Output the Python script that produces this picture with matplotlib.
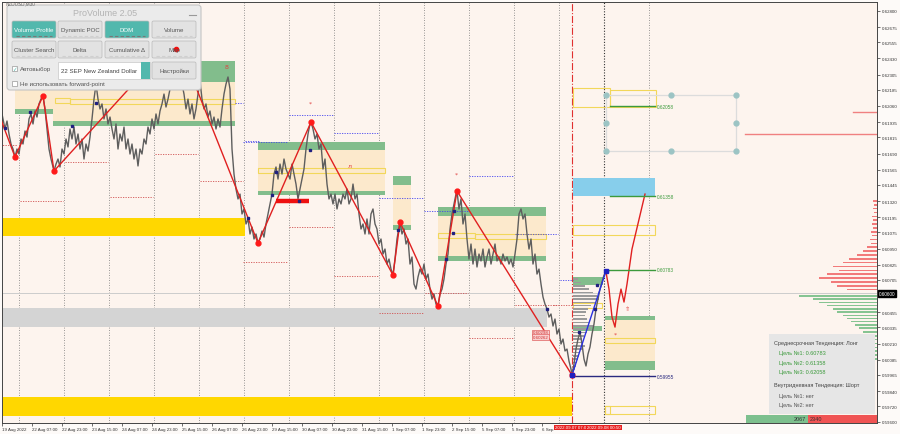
import matplotlib
matplotlib.use("Agg")
import matplotlib.pyplot as plt
from matplotlib.patches import Rectangle, FancyBboxPatch
from matplotlib.transforms import blended_transform_factory

plt.rcParams["font.family"] = ["Liberation Sans", "DejaVu Sans"]

# price path, bar index vs price in points (1e-5)
price_x = [0, 2, 4, 5, 7, 9, 11, 13, 15, 17, 19, 21, 23, 25, 27, 29, 31, 33, 35, 37, 39, 41, 43,
           45, 47, 49, 51, 53, 54, 56, 58, 60, 62, 64, 66, 68, 70, 72, 74, 76, 78, 80, 82, 84, 86, 88, 90, 92, 94, 96,
           98, 100, 102, 104, 106, 108, 110, 112, 114, 116, 118, 120, 122, 124, 126, 128, 130, 132, 134, 136, 138,
           140, 142, 144, 146, 148, 150, 152, 154, 156, 158, 160, 162, 164, 166, 168, 170, 172, 174, 176, 178, 180,
           182, 184, 186, 188, 190, 192, 194, 196, 198,
           200, 202, 204, 206, 208, 210, 212, 214, 216, 218, 220, 222, 224, 226, 228, 230, 232,
           234, 236, 238, 240, 242, 244, 246, 248, 250, 252, 254, 256, 258,
           260, 262, 264, 266, 268, 270, 272, 274, 276, 278, 280, 282, 284, 286, 288, 290, 292, 294, 296, 298, 300,
           302, 304, 306, 308, 310, 311,
           313, 315, 317, 319, 321, 323, 325, 327, 329, 331, 333, 335, 337, 339, 341, 343, 345, 347, 349, 351, 353,
           355, 357, 359, 361, 363, 365, 367, 369, 371, 373, 375, 377, 379, 381, 383, 385, 387, 389, 391, 393,
           395, 397, 399, 400,
           402, 404, 406, 408, 410, 412, 414, 416, 418, 420, 422, 424, 426, 428, 430, 432, 434, 436, 438,
           440, 442, 444, 446, 448, 450, 452, 454, 456, 457,
           459, 461, 463, 465, 467, 469, 471, 473, 475, 477, 479, 481, 483, 485, 487, 489, 491, 493, 495, 497, 499,
           501, 503, 505, 507, 509, 511, 513, 515, 517, 519, 521, 523, 525, 527, 529, 531, 533, 535, 537, 539, 541,
           543, 545, 547, 549, 551, 553, 555, 557, 559, 561, 563, 565, 567, 569, 571, 572,
           574, 576, 578, 580, 582, 584, 586, 588, 590, 592, 594, 596, 598, 600, 602, 604, 606]
price_pts = [62060, 61998, 61920, 61881, 61943, 61842, 61764, 61725, 61663, 61725, 61686, 61803, 61764, 61865,
             61818, 61959, 61998, 61920, 62021, 61974, 62076, 62114, 62138,
             62037, 61881, 61725, 61647, 61585, 61554, 61608, 61647, 61585, 61725, 61686, 61803, 61741, 61881, 61803,
             61896, 61764, 61842, 61725, 61803, 61647, 61764, 61709, 61818, 61959, 62114, 62231,
             62114, 62037, 62076, 61959, 62037, 61920, 61974, 61881, 61803, 61920, 61725, 61842, 61787, 61896, 61725,
             61803, 61686, 61764, 61647, 61725, 61593,
             61725, 61686, 61803, 61764, 61896, 61842, 61959, 61881, 61998, 61920, 62021, 62076, 62153, 62052, 62114,
             62192, 62309, 62426, 62597, 62518, 62440, 62231, 62153, 62037, 62114, 61998, 62076, 61959, 62037, 62153,
             62255, 62114, 62037, 62076, 61974, 62021, 61920, 61974, 61881, 61959, 61896, 62037, 62153, 62231, 62286,
             62192, 61725,
             61530, 61413, 61336, 61374, 61219, 61258, 61141, 61180, 61063, 61117, 61024, 61063, 60993,
             61024, 61086, 61039, 61141, 61219, 61297, 61374, 61530, 61585, 61491, 61608, 61530, 61647, 61569, 61530,
             61491, 61608, 61530, 61452, 61336, 61413, 61491, 61569, 61725, 61842, 61920, 61935,
             61881, 61803, 61842, 61725, 61764, 61569, 61647, 61452, 61336, 61374, 61297, 61374, 61258, 61336, 61297,
             61374, 61336, 61413, 61297, 61336, 61452, 61336, 61374, 61219, 61102, 61141, 61063, 61180, 61063, 61219,
             61258, 61141, 61102, 60985, 61024, 60907, 60946, 60829, 60868, 60790, 60743,
             60868, 61024, 61117, 61156,
             61063, 61102, 60985, 61024, 60829, 60884, 60673, 60634, 60728, 60790, 60751, 60829, 60712, 60751, 60634,
             60556, 60595, 60517, 60502,
             60595, 60634, 60712, 60829, 60907, 61102, 61219, 61297, 61374, 61398,
             61258, 61336, 61141, 61219, 61024, 60868, 60985, 60829, 60946, 60806, 60907, 60853, 60946, 60806, 60884,
             60946, 60829, 60907, 60985, 60853, 60884,
             60829, 60907, 60853, 60884, 60829, 60868, 60806, 60907, 61024, 61219, 61258, 61180, 61219, 61063, 60946,
             61024, 60829, 60907, 60751, 60790, 60673,
             60572, 60517, 60479, 60416, 60440, 60346, 60401, 60284, 60323, 60206, 60245, 60152, 60167, 60073, 60011,
             59964,
             60050, 60167, 60245, 60299, 60206, 60089, 60035, 60128, 60183, 60284, 60362, 60479, 60556, 60634, 60689,
             60743, 60767]

zigzag_x = [0, 15, 43, 54, 176, 258, 311, 393, 400, 438, 457, 572]
zigzag_pts = [61974, 61663, 62138, 61554, 62597, 60993, 61935, 60743, 61156, 60502, 61398, 59964]
impulse_x = [572, 606]
impulse_pts = [59964, 60775]
forecast_x = [606, 609, 612, 615, 618, 621, 624, 627, 632, 645]
forecast_pts = [60767, 60634, 60416, 60338, 60517, 60634, 60533, 60673, 60946, 61374]
pivot_x = [5, 30, 72, 96, 248, 272, 276, 299, 310, 398, 446, 453, 454, 547, 579, 595, 597, 607]
pivot_pts = [61889, 62013, 61904, 62083, 61187, 61367, 61546, 61320, 61717, 61094, 60868, 61071, 61242,
             60479, 60299, 60479, 60666, 60775]

# zones: x0, x1, low, high
zone_beige = [(15, 53, 62013, 62409), (53, 235, 61920, 62409), (258, 385, 61367, 61779),
              (393, 411, 61094, 61515), (438, 546, 60853, 61273), (605, 655, 60003, 60424)]
zone_green = [(15, 53, 61998, 62037), (53, 235, 61904, 61943), (53, 235, 62247, 62409),
              (258, 385, 61717, 61779), (258, 385, 61367, 61398), (393, 411, 61445, 61515),
              (393, 411, 61094, 61133), (438, 546, 61203, 61273), (438, 546, 60853, 60891),
              (605, 655, 60393, 60424), (605, 655, 60003, 60073), (573, 603, 60666, 60728),
              (573, 602, 60307, 60346)]
zone_yellow_outline = [(55, 70, 62083, 62122), (70, 235, 62076, 62114), (258, 385, 61538, 61577),
                       (438, 475, 61032, 61071), (475, 546, 61024, 61063), (573, 602, 60486, 60525),
                       (605, 655, 60214, 60253), (573, 610, 62052, 62200), (610, 656, 62052, 62185),
                       (573, 655, 61055, 61133), (605, 655, 59661, 59724), (605, 610, 59661, 59724)]
band_yellow = [(0, 245, 61047, 61187), (0, 572, 59645, 59793)]
band_gray = [(0, 547, 60338, 60486)]
band_blue = [(573, 655, 61359, 61499)]

# session levels: x0, x1, price
level_blue = [(235, 243, 62083), (245, 260, 61787), (243, 288, 61779), (289, 333, 61990), (334, 378, 61850),
              (379, 423, 61343), (424, 468, 61242), (469, 513, 61515), (515, 558, 61063), (560, 573, 60705)]
level_red = [(0, 17, 61756), (20, 63, 61320), (65, 108, 61624), (110, 153, 61351), (155, 198, 61686),
             (200, 243, 61476), (243, 288, 60845), (289, 333, 61117), (334, 378, 60736), (379, 423, 60447),
             (425, 468, 60603), (469, 513, 60253), (515, 558, 60510), (553, 573, 60510)]
target_lines = [(610, 655, 62058, "0.62058", "#3c9a3c"), (610, 655, 61358, "0.61358", "#3c9a3c"),
                (607, 655, 60783, "0.60783", "#3c9a3c"), (572, 655, 59955, "0.59955", "#2a2a80")]

# right-side volume profile
prof_pts = [61320, 61290, 61260, 61230, 61200, 61170, 61140, 61110, 61080, 61050, 61020, 60990, 60960, 60930,
            60900, 60870, 60840, 60810, 60780, 60750, 60720, 60690, 60660, 60630,
            60580, 60555, 60530, 60505, 60480, 60455, 60430, 60405, 60380, 60355, 60330, 60300, 60270, 60240,
            60210, 60180, 60150, 60120, 60090]
prof_len = [4, 3, 4, 3, 5, 4, 5, 4, 6, 5, 7, 6, 10, 14, 20, 28, 34, 44, 38, 50, 58, 46, 40, 30,
            78, 64, 58, 50, 44, 40, 34, 30, 26, 22, 18, 14, 12, 10, 8, 6, 5, 4, 3]
# small profile next to the current swing
vp_pts = [60712, 60685, 60660, 60634, 60608, 60582, 60556, 60530, 60505, 60479, 60453, 60427, 60401, 60375,
          60349, 60323, 60297, 60271, 60245, 60219, 60193, 60167, 60141, 60115, 60089, 60063, 60037, 60011]
vp_len = [5, 8, 12, 16, 20, 24, 26, 22, 18, 15, 13, 12, 14, 16, 20, 18, 14, 11, 9, 10, 12, 9, 7, 6, 5, 4, 3, 2]

tick_x = [2, 32, 62, 92, 122, 152, 182, 212, 242, 272, 302, 332, 362, 392, 422, 452, 482, 512, 542]
tick_lbl = ["19 Aug 2022", "22 Aug 07:00", "22 Aug 23:00", "23 Aug 15:00", "24 Aug 07:00", "24 Aug 23:00",
            "25 Aug 15:00", "26 Aug 07:00", "26 Aug 23:00", "29 Aug 15:00", "30 Aug 07:00", "30 Aug 23:00",
            "31 Aug 15:00", "1 Sep 07:00", "1 Sep 23:00", "2 Sep 15:00", "5 Sep 07:00", "5 Sep 23:00", "6 Sep"]
grid_x = [19, 64, 109, 154, 199, 244, 289, 334, 379, 424, 469, 514, 559, 649]
price_ticks = [62800, 62675, 62555, 62430, 62305, 62185, 62060, 61935, 61815, 61690, 61565, 61445, 61320,
               61195, 61075, 60950, 60825, 60705, 60455, 60335, 60210, 60085, 59965, 59840, 59720, 59600]
last_price = 60600

info_lines = [("Среднесрочная Тенденция: Лонг", "#444444", 0),
              ("Цель №1: 0.60783", "#3c9a3c", 5), ("Цель №2: 0.61358", "#3c9a3c", 5),
              ("Цель №3: 0.62058", "#3c9a3c", 5),
              ("Внутридневная Тенденция: Шорт", "#444444", 0),
              ("Цель №1: нет", "#555555", 5), ("Цель №2: нет", "#555555", 5)]
buy_vol, sell_vol = 2067, 2340

P = lambda v: v / 1e5
BG = "#fdf4ee"
GREEN = "#82bd8c"
BEIGE = "#fce9cc"

fig = plt.figure(figsize=(9, 4.35), dpi=100)
fig.patch.set_facecolor("#fdfaf8")
ax = fig.add_axes([2 / 900, 11 / 435, 875 / 900, 421 / 435])
ax.set_facecolor(BG)
ax.set_xlim(2, 877)
ax.set_ylim(0.59591, 0.62870)

def rect(x0, x1, lo, hi, **kw):
    ax.add_patch(Rectangle((x0, P(lo)), x1 - x0, P(hi) - P(lo), **kw))

for x0, x1, lo, hi in band_yellow:
    rect(x0, x1, lo, hi, facecolor="#ffd700", edgecolor="none", zorder=1)
for x0, x1, lo, hi in band_gray:
    rect(x0, x1, lo, hi, facecolor="#d4d4d4", edgecolor="none", zorder=1)
for x0, x1, lo, hi in band_blue:
    rect(x0, x1, lo, hi, facecolor="#87ceeb", edgecolor="none", zorder=1)
for x0, x1, lo, hi in zone_beige:
    rect(x0, x1, lo, hi, facecolor=BEIGE, edgecolor="none", zorder=1)
for x0, x1, lo, hi in zone_green:
    rect(x0, x1, lo, hi, facecolor=GREEN, edgecolor="none", zorder=1.2)
for x0, x1, lo, hi in zone_yellow_outline:
    rect(x0, x1, lo, hi, facecolor="none", edgecolor="#f2d75a", lw=0.8, zorder=1.3)

for gx in grid_x:
    ax.axvline(gx, color="#777777", ls=(0, (1, 2)), lw=0.6, zorder=0.5)
ax.axvline(572, color="#e03030", ls="-.", lw=0.8, zorder=0.6)
ax.axvline(604, color="#333333", ls=(0, (1, 1.5)), lw=0.8, zorder=0.6)
ax.axhline(P(last_price), color="#cccccc", lw=0.7, zorder=0.6)

for x0, x1, v in level_blue:
    ax.plot([x0, x1], [P(v)] * 2, color="#4444ee", ls=(0, (1.5, 1.5)), lw=0.6, zorder=1.5)
for x0, x1, v in level_red:
    ax.plot([x0, x1], [P(v)] * 2, color="#d05050", ls=(0, (1.5, 1.5)), lw=0.6, zorder=1.5)

# volume profiles
ax.barh([P(v) for v in vp_pts], vp_len, left=573, height=0.00013, color="#9a9a9a", zorder=1.4)
prof_col = ["#f27a7a" if v > last_price else "#86c492" for v in prof_pts]
ax.barh([P(v) for v in prof_pts], [-l for l in prof_len], left=877, height=0.00012, color=prof_col, zorder=1.4)
ax.plot([745, 877], [P(61842)] * 2, color="#f08080", lw=1.0, zorder=1.4)
ax.plot([853, 877], [P(62013)] * 2, color="#f08080", lw=1.0, zorder=1.4)

ax.plot(price_x, [P(v) for v in price_pts], color="#5e5e5e", lw=1.0, zorder=2)
ax.plot(zigzag_x, [P(v) for v in zigzag_pts], color="#e02020", lw=1.0, zorder=3)
ax.plot(zigzag_x[1:], [P(v) for v in zigzag_pts[1:]], "o", color="#ff1a1a", ms=3.5, zorder=3.2)
ax.plot(impulse_x, [P(v) for v in impulse_pts], color="#2830e0", lw=1.0, zorder=3)
ax.plot(impulse_x, [P(v) for v in impulse_pts], "s", color="#2020c0", ms=3.5, zorder=3.2)
ax.plot(forecast_x, [P(v) for v in forecast_pts], color="#e02020", lw=1.0, zorder=3)
ax.plot(pivot_x, [P(v) for v in pivot_pts], "s", color="#202080", ms=1.6, zorder=3.1)

# thick red segment and markers
ax.plot([276, 309], [P(61320)] * 2, color="#ee1010", lw=3.2, solid_capstyle="butt", zorder=3)
for x, v, s in [(227, 62367, "8"), (310, 62083, "*"), (350, 61593, "л"), (456, 61530, "*"),
                (627, 60486, "⇑"), (615, 60284, "*")]:
    ax.text(x, P(v), s, color="#e04040", fontsize=4.5, ha="center", va="center", zorder=4,
            family="DejaVu Sans")

for x0, x1, v, lbl, c in target_lines:
    ax.plot([x0, x1], [P(v)] * 2, color=c, lw=1.0, zorder=3)
    ax.text(x1 + 2, P(v), lbl, color=c, fontsize=3.4, va="center", zorder=4)

# swing target grid
gx, gy = [606, 671, 736], [62146, 61928, 61709]
ax.plot([606, 736, 736, 606, 606], [P(62146), P(62146), P(61709), P(61709), P(62146)],
        color="#dcdcdc", lw=0.9, zorder=2)
for xx in gx:
    for yy in gy:
        if xx == 671 and yy == 61928:
            continue
        ax.plot(xx, P(yy), "o", color="#9cc4c4", ms=3.5, zorder=2.5)

# small red price tags
for v, lbl in [(60298, "0.60298"), (60262, "0.60262")]:
    ax.text(533, P(v), lbl, fontsize=3.2, color="#d03030", va="center", zorder=4,
            bbox=dict(boxstyle="square,pad=0.15", fc="#f9d0d0", ec="#e06060", lw=0.5))

ax.yaxis.tick_right()
ax.set_yticks([P(v) for v in price_ticks])
ax.set_yticklabels(["%.5f" % P(v) for v in price_ticks])
ax.set_xticks(tick_x)
ax.set_xticklabels(tick_lbl)
ax.tick_params(axis="both", labelsize=3.2, colors="#333333", length=2, width=0.5, pad=1.2)
for t in ax.get_xticklabels():
    t.set_ha("left")
for s in ax.spines.values():
    s.set_color("#444444")
    s.set_linewidth(0.7)

tr = blended_transform_factory(ax.transAxes, ax.transData)
ax.text(1.002, P(last_price), "%.5f" % P(last_price), transform=tr, fontsize=3.3, color="white",
        va="center", ha="left", zorder=5, bbox=dict(boxstyle="square,pad=0.15", fc="black", ec="black"))

# overlay in pixel space for the widgets
ov = fig.add_axes([0, 0, 1, 1], zorder=10)
ov.set_xlim(0, 900)
ov.set_ylim(435, 0)
ov.axis("off")
ov.patch.set_alpha(0)

for xc, lbl in [(572, "2022.09.07 07:00"), (604, "2022.09.08 00:50")]:
    ov.text(xc, 428.5, lbl, fontsize=3.2, color="white", ha="center", va="center",
            bbox=dict(boxstyle="square,pad=0.2", fc="#e82020", ec="none"))

ov.text(6, 4, "NZDUSD,M30", fontsize=3.3, color="#666666", va="center")
ov.add_patch(FancyBboxPatch((7, 6), 194, 85, boxstyle="round,pad=0,rounding_size=3",
                            fc="#ebebeb", ec="#c4c4c4", lw=0.8))
ov.text(105, 13.5, "ProVolume 2.05", fontsize=6.5, color="#b4b4b4", ha="center", va="center")
ov.plot([189, 196], [16, 16], color="#999999", lw=0.8)

buttons = [("Volume Profile", 12, 22, True), ("Dynamic POC", 58, 22, False), ("DOM", 105, 22, True),
           ("Volume", 152, 22, False), ("Cluster Search", 12, 42, False), ("Delta", 58, 42, False),
           ("Cumulative Δ", 105, 42, False), ("Map", 152, 42, False)]
for lbl, bx, by, on in buttons:
    ov.add_patch(FancyBboxPatch((bx, by), 44, 17, boxstyle="round,pad=0,rounding_size=1.5",
                                fc="#52b8ad" if on else "#e2e2e2", ec="#b8b8b8", lw=0.5))
    ov.text(bx + 22, by + 8.5, lbl, fontsize=4.4, color="white" if on else "#555555",
            ha="center", va="center")
    ov.plot([bx + 4, bx + 40], [by + 14.5, by + 14.5], color="#777777" if on else "#cfcfcf",
            lw=0.8, ls=(0, (3, 2)))
ov.plot(176, 50, "o", color="#ee1010", ms=3)

ov.add_patch(Rectangle((12, 67), 5, 5, fc="white", ec="#999999", lw=0.5))
ov.text(14.5, 69.5, "✓", fontsize=4, color="#52b8ad", ha="center", va="center", family="DejaVu Sans")
ov.text(20, 70, "Автовыбор", fontsize=4.4, color="#555555", va="center")
ov.add_patch(Rectangle((58, 63), 92, 17, fc="white", ec="#c8c8c8", lw=0.5))
ov.add_patch(Rectangle((141, 63), 9, 17, fc="#52b8ad", ec="none"))
ov.text(61, 71.5, "22 SEP New Zealand Dollar", fontsize=4.4, color="#444444", va="center")
ov.add_patch(FancyBboxPatch((152, 63), 44, 17, boxstyle="round,pad=0,rounding_size=1.5",
                            fc="#e2e2e2", ec="#b8b8b8", lw=0.5))
ov.text(174, 71.5, "Настройки", fontsize=4.4, color="#555555", ha="center", va="center")
ov.add_patch(Rectangle((12, 82), 5, 5, fc="white", ec="#999999", lw=0.5))
ov.text(20, 84.5, "Не использовать forward-point", fontsize=4.4, color="#555555", va="center")

# trend info box
ov.add_patch(Rectangle((769, 335), 106, 80, fc="#e6e6e6", ec="none"))
ys = [344, 353, 363, 372, 386, 396, 405]
for (txt, c, ind), yy in zip(info_lines, ys):
    ov.text(774 + ind, yy, txt, fontsize=4.0, color=c, va="center")

ov.add_patch(Rectangle((746, 415.5), 62, 8.5, fc="#7dc08e", ec="none"))
ov.add_patch(Rectangle((808, 415.5), 69, 8.5, fc="#f05454", ec="none"))
ov.text(806, 419.8, str(buy_vol), fontsize=4.0, color="#333333", ha="right", va="center")
ov.text(810, 419.8, str(sell_vol), fontsize=4.0, color="#333333", ha="left", va="center")

fig.savefig("out.png", dpi=100, facecolor=fig.get_facecolor())
